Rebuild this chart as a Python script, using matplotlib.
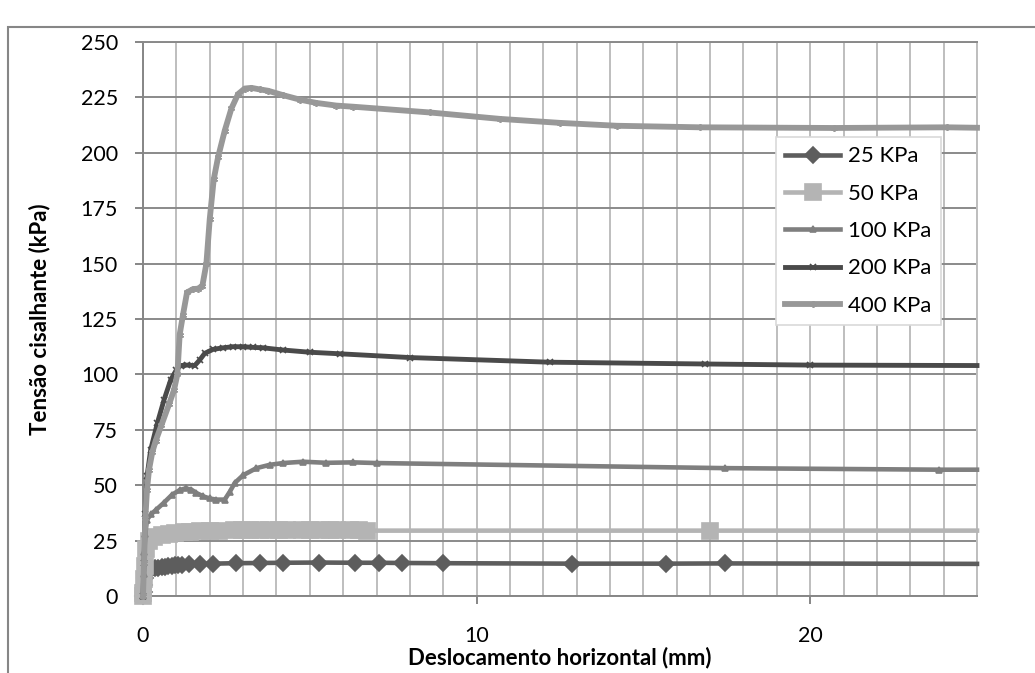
import matplotlib.pyplot as plt
from matplotlib.ticker import MultipleLocator
from matplotlib.patches import Rectangle

plt.rcParams['font.family'] = ['Lato', 'DejaVu Sans']

# direct shear test: shear stress vs horizontal displacement per normal stress
x25 = [0.0, 0.02, 0.04, 0.07, 0.1, 0.15, 0.25, 0.35, 0.45, 0.56, 0.66, 0.76, 0.86, 0.96, 1.06,
       1.16, 1.39, 1.71, 2.1, 2.78, 3.5, 4.2, 5.28, 6.36, 7.07, 7.77, 9.0, 12.85, 15.68, 17.45, 25.0]
y25 = [0.0, 2.0, 5.0, 8.0, 11.0, 12.0, 12.4, 12.6, 12.8, 13.0, 13.2, 13.4, 13.6, 13.8, 14.0,
       14.1, 14.3, 14.5, 14.6, 14.8, 14.9, 15.0, 15.1, 15.0, 15.0, 14.9, 14.8, 14.6, 14.6, 14.7, 14.5]

x50 = [0.0, 0.01, 0.03, 0.06, 0.1, 0.18, 0.32, 0.57, 0.77, 0.97, 1.22, 1.42, 1.72, 2.02, 2.27,
       2.72, 2.97, 3.22, 3.52, 3.77, 4.07, 4.32, 4.77, 5.02, 5.32, 5.62, 5.82, 6.22, 6.47, 6.72,
       17.0, 25.0]
y50 = [0.0, 1.5, 7.5, 13.5, 21.0, 25.0, 26.5, 27.5, 28.0, 28.4, 28.8, 29.0, 29.2, 29.4, 29.5,
       29.6, 29.6, 29.7, 29.7, 29.7, 29.7, 29.7, 29.6, 29.6, 29.6, 29.6, 29.6, 29.6, 29.6, 29.5,
       29.5, 29.5]

x100 = [0.0, 0.02, 0.04, 0.07, 0.12, 0.25, 0.4, 0.62, 0.87, 1.1, 1.28, 1.45, 1.6, 1.8, 2.0,
        2.2, 2.45, 2.6, 2.75, 3.0, 3.4, 3.8, 4.2, 4.8, 5.5, 6.3, 7.0, 17.45, 23.87, 25.0]
y100 = [0.0, 10.0, 20.0, 28.0, 34.5, 37.0, 39.0, 42.0, 45.7, 47.8, 48.6, 48.0, 46.5, 45.0, 44.0,
        43.5, 43.5, 47.0, 51.0, 54.5, 57.7, 59.2, 60.0, 60.6, 60.1, 60.3, 60.0, 57.7, 57.0, 57.0]

x200 = [0.0, 0.03, 0.07, 0.12, 0.23, 0.43, 0.63, 0.83, 1.0, 1.13, 1.33, 1.55, 1.7, 1.85, 2.1,
        2.4, 2.7, 3.0, 3.3, 3.6, 4.2, 5.0, 5.9, 8.0, 12.2, 16.85, 20.0, 25.0]
y200 = [0.0, 15.0, 37.0, 54.0, 66.0, 78.0, 88.5, 97.5, 102.0, 104.0, 104.2, 104.0, 106.5, 109.5,
        111.3, 112.0, 112.5, 112.5, 112.2, 112.0, 111.0, 110.0, 109.3, 107.6, 105.5, 104.7,
        104.2, 104.0]

x400 = [0.0, 0.03, 0.07, 0.12, 0.18, 0.28, 0.38, 0.55, 0.78, 0.93, 1.03, 1.1, 1.2, 1.32, 1.5,
        1.65, 1.78, 1.9, 2.0, 2.12, 2.25, 2.45, 2.65, 2.85, 3.05, 3.25, 3.5, 3.75, 4.2, 4.7,
        5.2, 5.8, 6.3, 8.6, 10.7, 12.5, 14.2, 16.7, 20.7, 24.1, 25.0]
y400 = [0.0, 15.0, 35.0, 48.0, 57.0, 65.0, 70.0, 77.0, 86.5, 93.0, 100.0, 118.0, 127.0, 137.0,
        138.5, 138.7, 140.0, 150.0, 170.0, 188.0, 198.0, 210.0, 220.0, 226.5, 229.0, 229.3,
        228.6, 228.0, 226.0, 224.0, 222.5, 221.3, 220.8, 218.2, 215.3, 213.5, 212.2, 211.5,
        211.2, 211.5, 211.3]

series = [
    (x25, y25, '25 KPa', '#5d5d5d', 'D', 8, 3.3),
    (x50, y50, '50 KPa', '#b4b4b4', 's', 12, 3.3),
    (x100, y100, '100 KPa', '#7f7f7f', '^', 4, 3.3),
    (x200, y200, '200 KPa', '#4a4a4a', 'x', 4, 3.5),
    (x400, y400, '400 KPa', '#989898', (6, 2, 0), 5, 4.2),
]

fig = plt.figure(figsize=(10.35, 6.73), dpi=100)
ax = fig.add_axes([143 / 1035, 1 - 596 / 673, 834 / 1035, 554 / 673])

for xs, ys, lab, col, mk, ms, lw in series:
    ax.plot(xs, ys, color=col, lw=lw, marker=mk, ms=ms, mfc=col, mec=col, mew=1.2,
            markevery=slice(0, len(xs) - 1), label=lab, solid_joinstyle='round',
            clip_on=False, zorder=3)

ax.set_xlim(0, 25)
ax.set_ylim(0, 250)
ax.xaxis.set_major_locator(MultipleLocator(10))
ax.xaxis.set_minor_locator(MultipleLocator(1))
ax.yaxis.set_major_locator(MultipleLocator(25))

ax.grid(axis='x', which='both', color='#bebebe', lw=1.4)
ax.grid(axis='y', which='major', color='#8a8a8a', lw=1.4)
ax.set_axisbelow(True)

for side in ['left', 'bottom']:
    ax.spines[side].set_color('#868686')
    ax.spines[side].set_linewidth(1.4)
ax.spines['top'].set_color('#8a8a8a')
ax.spines['top'].set_linewidth(1.4)
ax.spines['right'].set_color('#bebebe')
ax.spines['right'].set_linewidth(1.4)

ax.tick_params(axis='y', which='major', length=6, width=1.4, color='#868686', pad=12,
               labelsize=15.5)
ax.tick_params(axis='x', which='major', length=6, width=1.4, color='#868686', pad=15.5,
               labelsize=15.5)
ax.tick_params(axis='x', which='minor', length=0)

ax.set_xlabel('Deslocamento horizontal (mm)', fontsize=16, fontweight='bold')
ax.set_ylabel('Tensão cisalhante (kPa)', fontsize=16, fontweight='bold')
ax.xaxis.set_label_coords(0.5, -0.092)
ax.yaxis.set_label_coords(-0.1115, 0.5)

leg = ax.legend(loc='upper left', bbox_to_anchor=(776 / 1035, 1 - 137 / 673),
                bbox_transform=fig.transFigure, borderaxespad=0, fontsize=16,
                frameon=True, fancybox=False, edgecolor='#d9d9d9', framealpha=1,
                handlelength=2.48, handletextpad=0.36, labelspacing=0.78,
                borderpad=0.42)
leg.get_frame().set_linewidth(1.2)

# outer chart frame
fig.patches.append(Rectangle((7.5 / 1035, -0.2), 1.2, 1.2 - 27 / 673, transform=fig.transFigure,
                             fill=False, edgecolor='#868686', lw=1.5))

fig.savefig('out.png', dpi=100)
